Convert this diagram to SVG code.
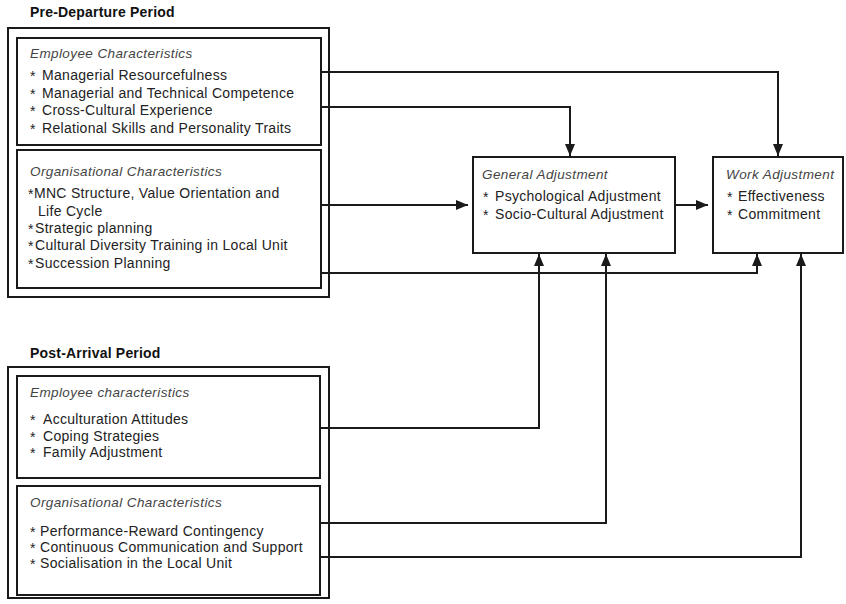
<svg xmlns="http://www.w3.org/2000/svg" width="846" height="604" viewBox="0 0 846 604">
<style>
.box{fill:none;stroke:#1a1a1a;stroke-width:2}
.hd{font-family:"Liberation Sans",Arial,sans-serif;font-weight:bold;font-size:14px;letter-spacing:0.2px;fill:#111}
.it{font-family:"Liberation Sans",Arial,sans-serif;font-style:italic;font-size:13.5px;letter-spacing:0.4px;fill:#444}
.tx{font-family:"Liberation Sans",Arial,sans-serif;font-size:14px;letter-spacing:0.3px;fill:#222}
.cn{fill:none;stroke:#1a1a1a;stroke-width:2}
</style>
<defs>
<marker id="ah" markerUnits="userSpaceOnUse" markerWidth="12" markerHeight="10" viewBox="0 0 12 10" refX="12" refY="5" orient="auto">
<path d="M0,0 L12,5 L0,10 z" fill="#1a1a1a"/>
</marker>
</defs>
<rect width="846" height="604" fill="#fff"/>

<text class="hd" x="30" y="17">Pre-Departure Period</text>
<rect class="box" x="8" y="28" width="321" height="269"/>
<g id="pre-employee">
<rect class="box" x="17" y="38" width="304" height="107"/>
<text class="it" x="30" y="58">Employee Characteristics</text>
<text class="tx" x="30" y="81">*</text><text class="tx" x="42" y="80">Managerial Resourcefulness</text>
<text class="tx" x="30" y="99">*</text><text class="tx" x="42" y="98">Managerial and Technical Competence</text>
<text class="tx" x="30" y="116">*</text><text class="tx" x="42" y="115">Cross-Cultural Experience</text>
<text class="tx" x="30" y="134">*</text><text class="tx" x="42" y="133">Relational Skills and Personality Traits</text>
</g>
<g id="pre-organisational">
<rect class="box" x="17" y="150" width="304" height="138"/>
<text class="it" x="30" y="176">Organisational Characteristics</text>
<text class="tx" x="28" y="199">*</text><text class="tx" x="34" y="198">MNC Structure, Value Orientation and</text>
<text class="tx" x="38" y="216">Life Cycle</text>
<text class="tx" x="28" y="234">*</text><text class="tx" x="35" y="233">Strategic planning</text>
<text class="tx" x="28" y="251">*</text><text class="tx" x="35" y="250">Cultural Diversity Training in Local Unit</text>
<text class="tx" x="28" y="269">*</text><text class="tx" x="35" y="268">Succession Planning</text>
</g>

<text class="hd" x="30" y="358">Post-Arrival Period</text>
<rect class="box" x="8" y="367" width="321" height="231"/>
<g id="post-employee">
<rect class="box" x="17" y="376" width="303" height="102"/>
<text class="it" x="30" y="397">Employee characteristics</text>
<text class="tx" x="30" y="425">*</text><text class="tx" x="43" y="424">Acculturation Attitudes</text>
<text class="tx" x="30" y="442">*</text><text class="tx" x="43" y="441">Coping Strategies</text>
<text class="tx" x="30" y="458">*</text><text class="tx" x="43" y="457">Family Adjustment</text>
</g>
<g id="post-organisational">
<rect class="box" x="17" y="486" width="303" height="109"/>
<text class="it" x="30" y="507">Organisational Characteristics</text>
<text class="tx" x="30" y="537">*</text><text class="tx" x="40" y="536">Performance-Reward Contingency</text>
<text class="tx" x="30" y="553">*</text><text class="tx" x="40" y="552">Continuous Communication and Support</text>
<text class="tx" x="30" y="569">*</text><text class="tx" x="40" y="568">Socialisation in the Local Unit</text>
</g>

<g id="general-adjustment">
<rect class="box" x="473" y="157" width="202" height="96"/>
<text class="it" x="482" y="179">General Adjustment</text>
<text class="tx" x="483" y="202">*</text><text class="tx" x="495" y="201">Psychological Adjustment</text>
<text class="tx" x="483" y="220">*</text><text class="tx" x="495" y="219">Socio-Cultural Adjustment</text>
</g>
<g id="work-adjustment">
<rect class="box" x="713" y="157" width="130" height="96"/>
<text class="it" x="726" y="179">Work Adjustment</text>
<text class="tx" x="727" y="202">*</text><text class="tx" x="738" y="201">Effectiveness</text>
<text class="tx" x="727" y="220">*</text><text class="tx" x="738" y="219">Commitment</text>
</g>

<g id="connectors">
<path class="cn" d="M321,72 H778 V156" marker-end="url(#ah)"/>
<path class="cn" d="M321,107 H570 V156" marker-end="url(#ah)"/>
<path class="cn" d="M321,205 H468" marker-end="url(#ah)"/>
<path class="cn" d="M675,205 H708" marker-end="url(#ah)"/>
<path class="cn" d="M321,273 H757 V254" marker-end="url(#ah)"/>
<path class="cn" d="M321,428 H539 V254" marker-end="url(#ah)"/>
<path class="cn" d="M321,523 H606 V254" marker-end="url(#ah)"/>
<path class="cn" d="M321,557 H801 V254" marker-end="url(#ah)"/>
</g>
</svg>
